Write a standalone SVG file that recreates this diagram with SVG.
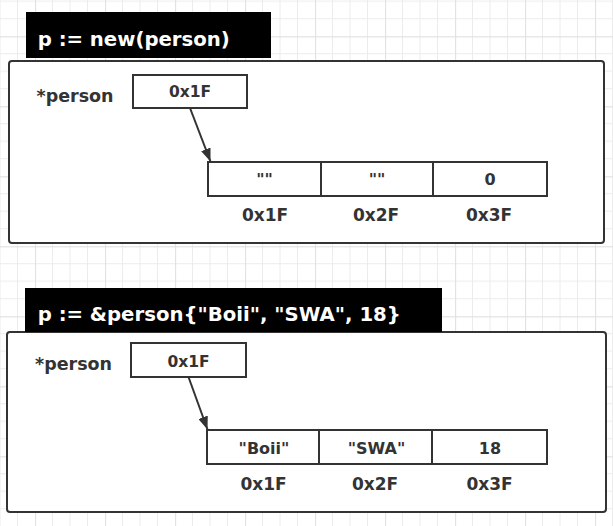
<svg xmlns="http://www.w3.org/2000/svg" width="613" height="526" viewBox="0 0 613 526">
<defs>
<pattern id="grid" x="35" y="36.2" width="70" height="70" patternUnits="userSpaceOnUse">
<path d="M17.5 0V70M35 0V70M52.5 0V70M0 17.5H70M0 35H70M0 52.5H70" stroke="#ececec" stroke-width="1" fill="none"/>
<path d="M0.5 0V70M0 0.5H70" stroke="#e2e2e2" stroke-width="1.3" fill="none"/>
</pattern>
<marker id="arr" viewBox="0 0 13 10" refX="13" refY="5" markerWidth="13" markerHeight="10" markerUnits="userSpaceOnUse" orient="auto">
<path d="M0 0L13 5L0 10Z" fill="#333"/>
</marker>
<style>
.frame{fill:#fff;stroke:#333;stroke-width:2}
.title{fill:#000}
.ttl{font-family:"DejaVu Sans",sans-serif;font-weight:bold;font-size:19.7px;fill:#fff}
.cell{fill:#fff;stroke:#333;stroke-width:2}
.lbl{font-family:"DejaVu Sans",sans-serif;font-weight:bold;fill:#333;text-anchor:middle}
.ptr{font-family:"DejaVu Sans",sans-serif;font-weight:bold;fill:#333;font-size:17.5px}
.val{font-size:16px}
.addr{font-size:17px}
.conn{stroke:#333;stroke-width:2;fill:none;marker-end:url(#arr)}
</style>
</defs>
<rect width="613" height="526" fill="#fff"/>
<rect width="613" height="526" fill="url(#grid)"/>

<g id="section1">
<rect class="frame" x="9" y="61" width="595" height="182" rx="3"/>
<g id="title1"><rect class="title" x="26" y="12" width="245" height="46"/><text class="ttl" x="37.7" y="45.5">p := new(person)</text></g>
<g id="ptr1"><text class="ptr" x="36.5" y="101.5">*person</text><rect class="cell" x="133" y="75" width="114" height="33"/><text class="lbl val" x="190" y="96.7" style="font-size:15.5px">0x1F</text></g>
<g id="cell1a"><rect class="cell" x="208" y="162" width="113" height="34"/><text class="lbl val" x="264.5" y="185">""</text><text class="lbl addr" x="265" y="221">0x1F</text></g>
<g id="cell1b"><rect class="cell" x="321" y="162" width="112" height="34"/><text class="lbl val" x="377" y="185">""</text><text class="lbl addr" x="376" y="221">0x2F</text></g>
<g id="cell1c"><rect class="cell" x="433" y="162" width="114" height="34"/><text class="lbl val" x="490" y="185">0</text><text class="lbl addr" x="489" y="221">0x3F</text></g>
</g>

<g id="section2">
<rect class="frame" x="7" y="332" width="599" height="180" rx="3"/>
<g id="title2"><rect class="title" x="25" y="288" width="417" height="44"/><text class="ttl" x="37.7" y="321">p := &amp;person{"Boii", "SWA", 18}</text></g>
<g id="ptr2"><text class="ptr" x="35" y="370">*person</text><rect class="cell" x="131" y="343" width="115" height="34"/><text class="lbl val" x="188.5" y="367" style="font-size:15.5px">0x1F</text></g>
<g id="cell2a"><rect class="cell" x="207" y="430" width="112" height="34"/><text class="lbl val" x="264" y="453.5">"Boii"</text><text class="lbl addr" x="263.5" y="489.5">0x1F</text></g>
<g id="cell2b"><rect class="cell" x="319" y="430" width="113" height="34"/><text class="lbl val" x="376.5" y="453.5">"SWA"</text><text class="lbl addr" x="375" y="489.5">0x2F</text></g>
<g id="cell2c"><rect class="cell" x="432" y="430" width="115" height="34"/><text class="lbl val" x="490" y="453.5">18</text><text class="lbl addr" x="489.5" y="489.5">0x3F</text></g>
</g>

<g id="connectors">
<line class="conn" x1="190" y1="108" x2="210.5" y2="161.5"/>
<line class="conn" x1="188.5" y1="377" x2="207.5" y2="429.5"/>
</g>
</svg>
